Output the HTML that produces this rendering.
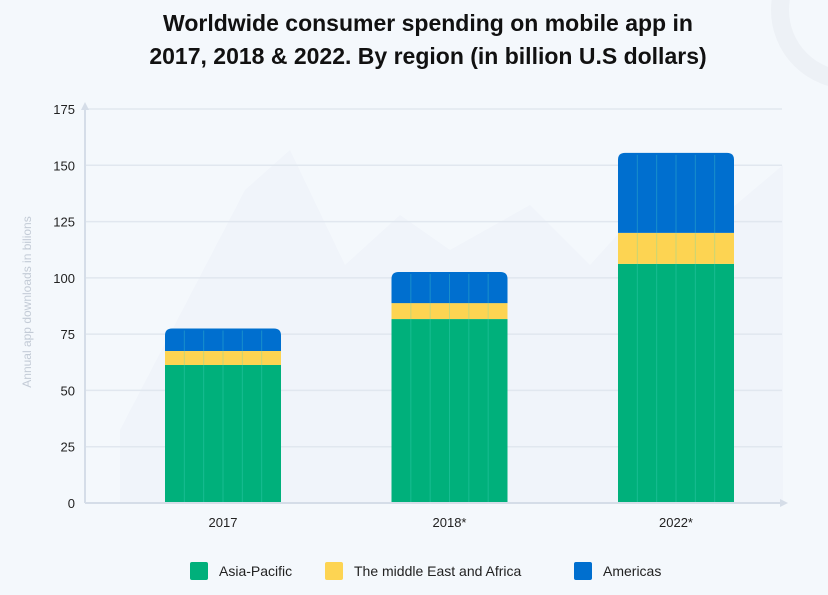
<!DOCTYPE html>
<html><head><meta charset="utf-8"><style>
body{margin:0;width:828px;height:595px;background:#f4f8fc;overflow:hidden;font-family:"Liberation Sans",sans-serif}
svg{display:block}
</style></head><body>
<svg id="chart" width="828" height="595">
<circle cx="850" cy="10" r="70" fill="none" stroke="#edf1f6" stroke-width="18"/>
<path d="M120 430 L245 190 L290 150 L345 265 L400 215 L450 250 L530 205 L590 265 L640 210 L700 235 L783 165 L783 503 L120 503 Z" fill="#f0f4fa"/>
<text x="428" y="31" text-anchor="middle" font-size="23" font-weight="bold" fill="#111">Worldwide consumer spending on mobile app in</text>
<text x="428" y="64" text-anchor="middle" font-size="23" font-weight="bold" fill="#111">2017, 2018 &amp; 2022. By region (in billion U.S dollars)</text>
<text transform="translate(31,302) rotate(-90)" text-anchor="middle" font-size="12" fill="#c3cbd6">Annual app downloads in bilions</text>
<g id="grid"></g><g id="bars"></g>
<line x1="85" y1="107" x2="85" y2="503" stroke="#d5dde8" stroke-width="2"/>
<path d="M81 110 L85 102 L89 110 Z" fill="#d5dde8"/>
<line x1="85" y1="503" x2="782" y2="503" stroke="#d5dde8" stroke-width="2"/>
<path d="M780 499 L788 503 L780 507 Z" fill="#d5dde8"/>
<g id="legend"></g>
</svg>
<script>
const categories=["2017","2018*","2022*"];
const asiaPacific=[61.3,81.7,106.2];
const middleEastAfrica=[6.2,7.1,13.8];
const americas=[10,13.8,35.5];
const yTicks=[0,25,50,75,100,125,150,175];
const seriesNames=["Asia-Pacific","The middle East and Africa","Americas"];
const colors=["#00b07b","#fdd452","#006fcf"];
const NS="http://www.w3.org/2000/svg";
const y=v=>503-v*394/175;
const x=i=>223+i*226.5;
const bw=116;
function mk(t,a,p){const e=document.createElementNS(NS,t);for(const k in a)e.setAttribute(k,a[k]);p.appendChild(e);return e;}
const grid=document.getElementById('grid');
yTicks.forEach(t=>{
  if(t>0){const l=mk('line',{x1:85,x2:782,y1:y(t),y2:y(t),stroke:'#e1e7ef','stroke-width':1.5},grid);
  
  }
  const tx=mk('text',{x:75,y:y(t)+5,'text-anchor':'end','font-size':13,fill:'#222'},grid);
  tx.textContent=t;
  
  
});
const bars=document.getElementById('bars');
const series=[asiaPacific,middleEastAfrica,americas];
categories.forEach((c,i)=>{
  let base=0;
  series.forEach((s,j)=>{
    const top=base+s[i];
    const y0=y(base),y1=y(top),h=y0-y1,xl=x(i)-bw/2;
    let r;
    if(j===2){
      const rr=7;
      r=mk('path',{d:`M${xl} ${y0} L${xl} ${y1+rr} Q${xl} ${y1} ${xl+rr} ${y1} L${xl+bw-rr} ${y1} Q${xl+bw} ${y1} ${xl+bw} ${y1+rr} L${xl+bw} ${y0} Z`,fill:colors[j]},bars);
    } else r=mk('rect',{x:xl,y:y1,width:bw,height:h,fill:colors[j]},bars);
    
    
    base=top;
  });
  for(let k=1;k<6;k++){
    const l=mk('line',{x1:x(i)-bw/2+k*bw/6,x2:x(i)-bw/2+k*bw/6,y1:y(base)+2,y2:503,stroke:'rgba(80,220,200,0.3)','stroke-width':1},bars);
    
    
  }
  const t=mk('text',{x:x(i),y:527,'text-anchor':'middle','font-size':13,fill:'#222'},bars);
  t.textContent=c;
  
  
});
const lg=document.getElementById('legend');
const lx=[190,325,574];
seriesNames.forEach((n,j)=>{
  const r=mk('rect',{x:lx[j],y:562,width:18,height:18,rx:2,fill:colors[j]},lg);
  
  
  const t=mk('text',{x:lx[j]+29,y:576,'font-size':14,fill:'#222'},lg);
  t.textContent=n;
  
  
});
</script>
</body></html>
